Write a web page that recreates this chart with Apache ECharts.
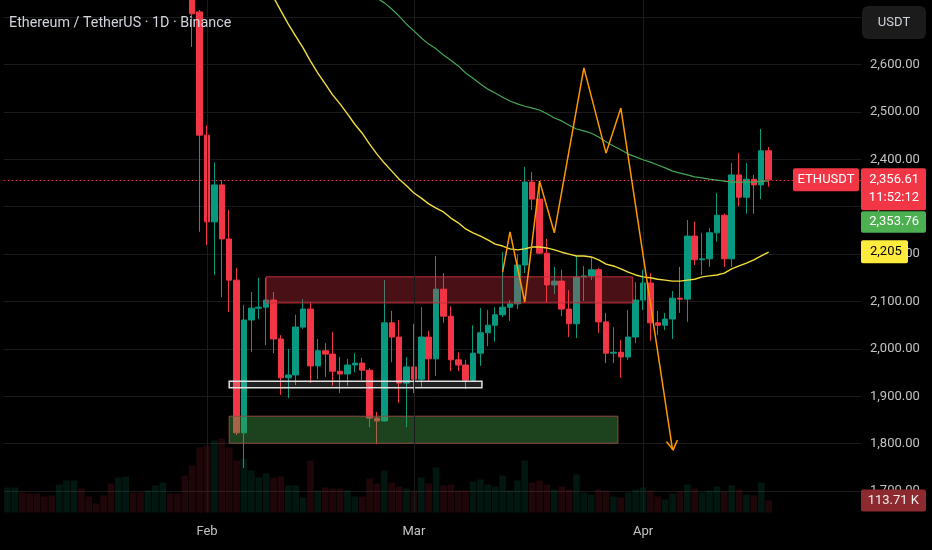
<!DOCTYPE html>
<html>
<head>
<meta charset="utf-8">
<title>ETHUSDT 1D</title>
<script src="https://cdn.jsdelivr.net/npm/echarts@6.0.0/dist/echarts.min.js"></script>
<style>
html,body{margin:0;padding:0;background:#000;overflow:hidden;}
#chart{width:932px;height:550px;}
</style>
</head>
<body>
<div id="chart"></div>
<script>
// ---------------- data ----------------
const titleText = 'Ethereum / TetherUS \u00b7 1D \u00b7 Binance';
const symbolName = 'ETHUSDT';
const currency = 'USDT';

const firstDay = [2026, 0, 5];          // first category (Jan 5)
const dayCount = 116;                   // Jan 5 .. Apr 30
const candleStart = '2026-01-30';

// [open, close, low, high] per day from Jan 30
const ohlc = [
  [2790,2707,2637,2800],[2711,2451,2247,2715],
  [2451,2268,2219,2472],[2268,2346,2156,2394],[2346,2232,2109,2356],[2232,2145,2078,2293],
  [2145,1823,1818,2171],[1823,2061,1749,2093],[2061,2086,1993,2120],[2086,2088,2063,2150],
  [2088,2103,2008,2150],[2103,2021,1991,2120],[2021,1939,1903,2029],[1939,1945,1896,2000],
  [1945,2046,1924,2072],[2046,2084,2042,2105],[2084,1964,1928,2099],[1964,1996,1936,2021],
  [1996,1989,1941,2012],[1989,1953,1922,2036],[1953,1947,1907,1983],[1947,1966,1922,1979],
  [1966,1970,1951,1991],[1970,1955,1934,1981],[1955,1854,1835,1960],[1854,1848,1799,1867],
  [1848,2055,1847,2145],[2055,2025,1972,2080],[2025,1928,1886,2061],[1928,1962,1835,1983],
  [1962,1936,1907,2053],[1936,2025,1920,2088],[2025,1979,1932,2038],[1979,2126,1943,2196],
  [2126,2069,2055,2160],[2069,1977,1953,2090],[1977,1966,1953,1993],[1966,1934,1915,1977],
  [1934,1991,1930,2050],[1991,2034,1964,2086],[2034,2050,2006,2082],[2050,2072,2015,2088],
  [2072,2088,2067,2204],[2088,2095,2059,2103],[2095,2177,2084,2200],[2177,2352,2160,2384],
  [2352,2316,2293,2373],[2316,2202,2200,2352],[2202,2135,2097,2232],[2135,2143,2116,2173],
  [2143,2084,2069,2167],[2084,2053,2025,2124],[2053,2152,2023,2196],[2152,2154,2101,2175],
  [2154,2167,2145,2194],[2167,2057,2034,2171],[2057,1991,1970,2076],[1991,1993,1970,2046],
  [1993,1983,1939,2019],[1983,2025,1977,2082],[2025,2103,2012,2141],
  [2103,2139,2082,2167],[2139,2055,2017,2160],[2055,2050,2029,2080],[2050,2063,2040,2076],
  [2063,2107,2021,2122],[2107,2105,2076,2173],[2105,2238,2057,2272],[2238,2188,2177,2268],
  [2188,2190,2156,2245],[2190,2245,2173,2255],[2245,2282,2226,2329],[2282,2190,2173,2285],
  [2190,2367,2173,2392],[2367,2320,2301,2413],[2320,2358,2285,2392],[2358,2346,2285,2367],
  [2346,2418,2316,2464],[2418,2356.61,2342,2426]
];

// daily volume in thousands, from Jan 5
const volumeK = [
  237,237,189,180,180,152,161,265,303,303,227,152,85,161,275,331,341,189,189,208,256,284,180,180,350,
  445,616,
  634,682,701,616,492,511,398,331,369,331,341,256,256,142,492,208,237,227,227,208,152,152,322,275,398,284,246,227,
  208,331,275,426,256,265,208,208,294,313,265,246,350,208,303,492,284,303,265,218,246,218,360,189,170,218,208,152,142,189,218,
  237,208,152,123,180,199,265,227,189,208,246,199,256,218,170,161,284,113.71
];
// up(1)/down(0) colouring of volume bars before the first visible candle
const preCandleVolUp = [1,1,0,0,0,0,0,1,1,1,0,0,0,0,0,1,1,0,0,1,1,1,0,0,0];

const fastMaStart = '2026-02-09';
const fastMa = [
  2770,2742,2713,2685,2660,2635,2607,2582,2559,2536,2517,2496,2474,2455,2432,2411,2392,2375,2358,2344,
  2329,2318,2306,2297,2289,2276,2266,2253,2245,2238,2230,2221,2217,2211,2209,2211,2215,2215,2213,2209,
  2204,2200,2196,2196,2194,2188,2179,2175,2169,2162,2156,
  2152,2150,2147,2145,2143,2143,2145,2147,2152,2154,2156,2160,2169,2175,2181,2188,2196,2204
];
const slowMaStart = '2026-02-22';
const slowMa = [
  2768,2756,2740,2730,2717,2702,2685,
  2671,2656,2643,2633,2620,2609,2597,2582,2571,2559,2548,2540,2531,2523,2517,2512,2508,2504,2496,2487,
  2481,2472,2464,2460,2455,2447,2437,2428,2420,2411,2405,
  2399,2394,2388,2382,2375,2371,2367,2363,2361,2358,2356,2354,2352,2352,2352,2352,2354,2354
];

// hand-drawn projection path
const pathDates  = ['2026-03-13','2026-03-14','2026-03-16','2026-03-18','2026-03-20','2026-03-24','2026-03-27','2026-03-29','2026-04-05'];
const pathPrices = [2162, 2247, 2099, 2354, 2245, 2593, 2413, 2508, 1787];

// rectangles: day offsets from first category, price bounds
const zoneFromDay = [35, 30, 30];
const zoneToDay   = [84.6, 64.2, 82.6];
const zoneLow     = [2097, 1918, 1801];
const zoneHigh    = [2152, 1932, 1858];

const monthTickDates  = ['2026-02-01','2026-03-01','2026-04-01'];
const monthTickLabels = ['Feb','Mar','Apr'];

const priceAxisMin = 1700, priceAxisMax = 2800, priceStep = 100, priceLabelMax = 2600;
const volAxisMax = 4853;

const lastPrice = 2356.61;
const countdown = '11:52:12';
const slowMaLast = 2353.76;
const fastMaLast = 2205;
const lastVolumeK = 113.71;

// ---------------- build ----------------
const UP = '#089981', DOWN = '#f23645';
const dates = [];
const base = Date.UTC(firstDay[0], firstDay[1], firstDay[2]);
for (let i = 0; i < dayCount; i++) dates.push(new Date(base + i * 86400000).toISOString().slice(0, 10));

const cIdx = dates.indexOf(candleStart);
const candleData = dates.map((d, i) => { const k = i - cIdx; return (k >= 0 && k < ohlc.length) ? ohlc[k] : '-'; });
const alignSeries = (arr, start) => { const s = dates.indexOf(start); return dates.map((d, i) => { const k = i - s; return (k >= 0 && k < arr.length) ? arr[k] : '-'; }); };
const fastData = alignSeries(fastMa, fastMaStart);
const slowData = alignSeries(slowMa, slowMaStart);

const volData = dates.map((d, i) => {
  if (i >= volumeK.length) return '-';
  let up;
  if (i < cIdx) up = preCandleVolUp[i] === 1;
  else { const c = ohlc[i - cIdx]; up = c[1] >= c[0]; }
  return { value: volumeK[i], itemStyle: { color: up ? 'rgba(16,160,110,0.14)' : 'rgba(242,54,69,0.13)' } };
});

const arrowPath = 'path://M0,0L6,9L12,0';
const pathData = pathDates.map((d, i) => {
  const last = i === pathDates.length - 1;
  return last
    ? { value: [d, pathPrices[i]], symbol: arrowPath, symbolSize: [11, 9], symbolRotate: 8, symbolOffset: [0, -4.5],
        itemStyle: { color: 'rgba(0,0,0,0)', borderColor: '#ff9800', borderWidth: 1.5 } }
    : { value: [d, pathPrices[i]], symbol: 'none' };
});

const zoneStyles = [
  { fill: 'rgba(242,54,69,0.30)', stroke: '#c22f3c', lw: 1 },
  { fill: 'rgba(255,255,255,0.13)', stroke: '#e0e0e0', lw: 1.5 },
  { fill: 'rgba(67,160,71,0.42)', stroke: '#8f4a44', lw: 1 }
];
const zoneData = zoneFromDay.map((f, i) => [f, zoneToDay[i], zoneLow[i], zoneHigh[i]]);

const fmt2 = v => v.toLocaleString('en-US', { minimumFractionDigits: 2, maximumFractionDigits: 2 });
const AXIS_TEXT = '#c3c3c3';

const option = {
  backgroundColor: '#000000',
  animation: false,
  textStyle: { fontFamily: 'Roboto, sans-serif' },
  grid: [
    { left: 3.8, right: 71, top: -30.3, bottom: 58.9, containLabel: false, outerBoundsMode: 'none' },
    { left: 3.8, right: 71, top: 0, bottom: 37.5, containLabel: false, outerBoundsMode: 'none' }
  ],
  xAxis: [
    { type: 'category', gridIndex: 0, data: dates, boundaryGap: true, show: false },
    { type: 'category', gridIndex: 1, data: dates, boundaryGap: true,
      axisLine: { show: false }, axisTick: { show: false }, splitLine: { show: false },
      axisLabel: { interval: (i, v) => monthTickDates.includes(v),
                   formatter: v => { const k = monthTickDates.indexOf(v); return k >= 0 ? monthTickLabels[k] : ''; },
                   color: AXIS_TEXT, fontSize: 13, margin: 13 } },
    { type: 'value', gridIndex: 0, min: -0.5, max: dayCount - 0.5, show: false }
  ],
  yAxis: [
    { type: 'value', gridIndex: 0, position: 'right', min: priceAxisMin, max: priceAxisMax, interval: priceStep,
      axisLine: { show: false }, axisTick: { show: false },
      splitLine: { show: true, lineStyle: { color: '#1a1a1a', width: 1 } },
      axisLabel: { color: AXIS_TEXT, fontSize: 13, margin: 9,
                   formatter: v => v > priceLabelMax ? '' : fmt2(v) } },
    { type: 'value', gridIndex: 1, min: 0, max: volAxisMax, show: false }
  ],
  series: [
    { name: 'Volume', type: 'bar', xAxisIndex: 1, yAxisIndex: 1, data: volData, barCategoryGap: '10%', z: 1, silent: true,
      markLine: { silent: true, symbol: ['none', 'none'], label: { show: false },
                  lineStyle: { color: '#1c1c1c', width: 1, type: 'solid' },
                  data: monthTickDates.map(d => ({ xAxis: d })) } },
    { name: symbolName, type: 'candlestick', xAxisIndex: 0, yAxisIndex: 0, data: candleData, barWidth: 6, z: 3,
      itemStyle: { color: UP, color0: DOWN, borderColor: UP, borderColor0: DOWN, borderWidth: 1 },
      markLine: { silent: true, symbol: ['none', 'none'], label: { show: false },
                  lineStyle: { color: DOWN, width: 1, type: [1.5, 2.5] },
                  data: [{ yAxis: lastPrice }] } },
    { name: 'Zones', type: 'custom', xAxisIndex: 2, yAxisIndex: 0, data: zoneData, z: 4, silent: true,
      renderItem: (params, api) => {
        const a = api.coord([api.value(0), api.value(3)]);
        const b = api.coord([api.value(1), api.value(2)]);
        const s = zoneStyles[params.dataIndex];
        return { type: 'rect', shape: { x: a[0], y: a[1], width: b[0] - a[0], height: b[1] - a[1] },
                 style: { fill: s.fill, stroke: s.stroke, lineWidth: s.lw } };
      } },
    { name: 'MA fast', type: 'line', xAxisIndex: 0, yAxisIndex: 0, data: fastData, symbol: 'none', z: 5, silent: true,
      lineStyle: { color: '#f2df3a', width: 1.4 } },
    { name: 'MA slow', type: 'line', xAxisIndex: 0, yAxisIndex: 0, data: slowData, symbol: 'none', z: 5, silent: true,
      lineStyle: { color: '#46a655', width: 1.2 } },
    { name: 'Path', type: 'line', xAxisIndex: 0, yAxisIndex: 0, data: pathData, z: 6, silent: true,
      showSymbol: true, showAllSymbol: true, symbol: 'none',
      lineStyle: { color: '#ff9800', width: 1.5 } }
  ]
};

const chart = echarts.init(document.getElementById('chart'), null, { renderer: 'canvas' });
chart.setOption(option);

// price-scale tags positioned from the chart's own scales
const edgeX = chart.convertToPixel({ xAxisIndex: 2 }, dayCount - 0.5);
const yPrice = chart.convertToPixel({ yAxisIndex: 0 }, lastPrice);
const yFast = chart.convertToPixel({ yAxisIndex: 0 }, fastMaLast);
const yVol = chart.convertToPixel({ yAxisIndex: 1 }, lastVolumeK);
const textX = edgeX + 58;

function box(x, y, w, h, fill, r) {
  return { type: 'rect', z: 100, silent: true, shape: { x, y, width: w, height: h, r: r == null ? 2 : r }, style: { fill } };
}
function label(x, y, text, fill, align, size) {
  return { type: 'text', z: 101, silent: true,
           style: { x, y, text, fill, font: (size || 13) + 'px Roboto, sans-serif',
                    align, textAlign: align, verticalAlign: 'middle', textVerticalAlign: 'middle' } };
}

chart.setOption({
  graphic: { elements: [
    label(9, 23, titleText, '#d1d4dc', 'left', 14.3),
    box(edgeX + 1, 6, 64, 33, '#1b1b1b', 6),
    label(edgeX + 33, 22.5, currency, '#d1d4dc', 'center', 13),
    box(edgeX - 68, yPrice - 11.5, 66, 23, DOWN),
    label(edgeX - 35, yPrice, symbolName, '#ffffff', 'center', 13),
    box(edgeX, yPrice - 11.5, 65, 42, DOWN),
    label(textX, yPrice, fmt2(lastPrice), '#ffffff', 'right', 13),
    label(textX, yPrice + 18, countdown, '#ffffff', 'right', 13),
    box(edgeX, yPrice + 31.5, 65, 21.5, '#4caf50'),
    label(textX, yPrice + 42, fmt2(slowMaLast), '#ffffff', 'right', 13),
    box(edgeX, yFast - 11.5, 47, 23, '#ffeb3b'),
    label(edgeX + 9, yFast, fastMaLast.toLocaleString('en-US'), '#000000', 'left', 13),
    box(edgeX, yVol - 11, 65, 22, '#8c2a30'),
    label(textX, yVol, lastVolumeK.toFixed(2) + ' K', '#eeeeee', 'right', 13)
  ] }
});
</script>
</body>
</html>
